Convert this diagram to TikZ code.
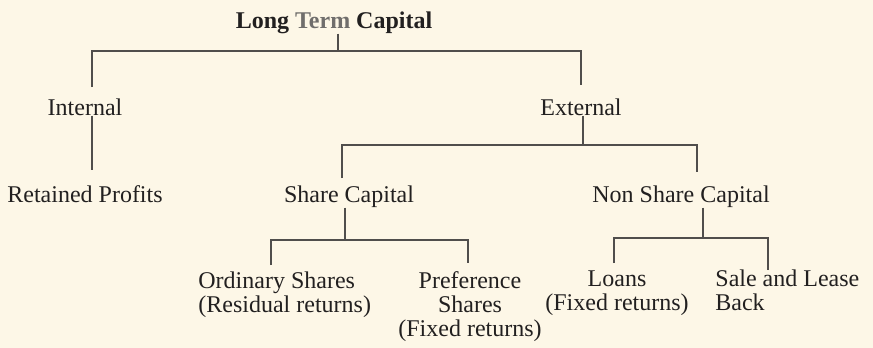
\documentclass[tikz,border=0pt]{standalone}
\usepackage{fontspec}
\setmainfont{Liberation Serif}
\usepackage{tikz}

\definecolor{paper}{RGB}{253,247,231}
\definecolor{ink}{RGB}{34,32,32}
\definecolor{rule}{RGB}{80,78,76}
\definecolor{faded}{RGB}{112,110,108}

\begin{document}
\begin{tikzpicture}
    [
    x=0.5pt, y=-0.5pt,
    every node/.style={inner sep=0pt, text=ink, font=\fontsize{12}{12}\selectfont},
    item/.style={anchor=base},
    block/.style={anchor=base, align=center},
    leftblock/.style={anchor=base west, align=left},
    branch/.style={draw=rule, line width=0.7pt},
    ]
    \fill [paper] (0,0) rectangle (873,348);
    \useasboundingbox (0,0) rectangle (873,348);

    \node (ltc) at (334,28) [item, font=\fontsize{12}{12}\selectfont\bfseries]
        {Long \textcolor{faded}{Term} Capital};
    \node (internal) at (85,115) [item] {Internal};
    \node (external) at (581,115) [item] {External};
    \node (retained) at (85,202) [item] {Retained Profits};
    \node (share) at (349,202) [item] {Share Capital};
    \node (nonshare) at (681,202) [item] {Non Share Capital};
    % multi-line nodes sit on the baseline of their last line
    \node (ordinary) at (198,312) [leftblock] {Ordinary Shares\\(Residual returns)};
    \node (preference) at (470,336) [block] {Preference\\Shares\\(Fixed returns)};
    \node (loans) at (617,310) [block] {Loans\\(Fixed returns)};
    \node (sale) at (715,310) [leftblock] {Sale and Lease\\Back};

    % junctions of the bars
    \coordinate (ltc-fork) at (338,51);
    \coordinate (internal-top) at (92,87);
    \coordinate (external-top) at (581,85);
    \coordinate (retained-top) at (92,170);
    \coordinate (external-fork) at (583,145);
    \coordinate (share-top) at (342,178);
    \coordinate (nonshare-top) at (697,172);
    \coordinate (share-fork) at (345,240);
    \coordinate (ordinary-top) at (271,265);
    \coordinate (preference-top) at (468,263);
    \coordinate (nonshare-fork) at (703,238);
    \coordinate (loans-top) at (614,263);
    \coordinate (sale-top) at (768,270);

    \draw [branch] (ltc.south -| ltc-fork) to (ltc-fork);
    \draw [branch] (internal-top) |- (ltc-fork) -| (external-top);

    \draw [branch] (internal.south -| retained-top) to (retained-top);

    \draw [branch] (external.south -| external-fork) to (external-fork);
    \draw [branch] (share-top) |- (external-fork) -| (nonshare-top);

    \draw [branch] (share.south -| share-fork) to (share-fork);
    \draw [branch] (ordinary-top) |- (share-fork) -| (preference-top);

    \draw [branch] (nonshare.south -| nonshare-fork) to (nonshare-fork);
    \draw [branch] (loans-top) |- (nonshare-fork) -| (sale-top);
  \end{tikzpicture}
\end{document}
